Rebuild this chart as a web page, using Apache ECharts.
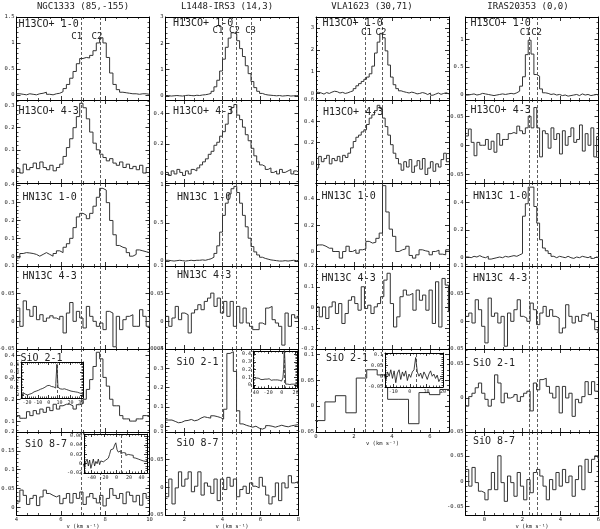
<!DOCTYPE html>
<html><head><meta charset="utf-8">
<script src="https://cdn.jsdelivr.net/npm/echarts@6/dist/echarts.min.js"></script>
<style>html,body{margin:0;padding:0;background:#fff}#c{width:600px;height:529px}</style>
</head><body><div id="c"></div>
<script>
// ================= DATA =================
const sourceNames = ['NGC1333 (85,-155)', 'L1448-IRS3 (14,3)', 'VLA1623 (30,71)', 'IRAS20353 (0,0)'];
const lineNames = ['H13CO+ 1-0', 'H13CO+ 4-3', 'HN13C 1-0', 'HN13C 4-3', 'SiO 2-1', 'SiO 8-7'];
const velRange = [[4, 10], [1, 8], [0, 7], [-1, 6]];
const velStep = 2;
const velTitle = 'v (km s\u207B\u00B9)';
const compVel = [[6.9, 7.8], [4.0, 4.7, 5.5], [2.6, 3.5], [2.35, 2.8]];
const compNames = [['C1', 'C2'], ['C1', 'C2', 'C3'], ['C1', 'C2'], ['C1', 'C2']];

// y axes per column, rows top to bottom: [min, max, major step]
const yNGC1333 = [[-0.1, 1.5, 0.5], [-0.05, 0.325, 0.1], [-0.055, 0.41, 0.1], [-0.05, 0.1, 0.05], [0.05, 0.43, 0.1], [-0.02, 0.2, 0.05]];
const yL1448 = [[-0.15, 3, 1], [-0.06, 0.49, 0.2], [-0.065, 1.025, 0.5], [-0.05, 0.1, 0.05], [-0.03, 0.4, 0.1], [-0.05, 0.1, 0.05]];
const yVLA1623 = [[-0.3, 3.5, 1], [-0.18, 0.6, 0.2], [-0.11, 0.52, 0.2], [-0.2, 0.2, 0.1], [-0.05, 0.11, 0.05]];
const yIRAS20353 = [[-0.1, 1.4, 0.5], [-0.065, 0.078, 0.05], [-0.06, 0.54, 0.2], [-0.05, 0.1, 0.05], [-0.05, 0.072, 0.05], [-0.067, 0.097, 0.05]];

// channel grids: [left edge of first channel, channel width] (km/s)
const chNGC1333 = [[4, 0.15], [4, 0.15], [4, 0.15], [4, 0.15], [4, 0.15], [4, 0.15]];
const chL1448 = [[1, 0.15], [1, 0.15], [1, 0.15], [1, 0.17], [1, 0.17], [1, 0.17]];
const chVLA1623 = [[0, 0.14], [0, 0.14], [0, 0.175], [0, 0.17], [-0.08, 0.55]];
const chIRAS20353 = [[-1, 0.15], [-1, 0.15], [-1, 0.15], [-1, 0.17], [-1, 0.17], [-1, 0.17]];

// ---- NGC1333 spectra (K) ----
const NGC1333_H13COp_10 = [0.02,0.01,0.00,0.02,0.01,0.00,0.02,0.03,0.05,0.01,0.00,0.02,0.03,0.06,0.12,0.2,0.32,0.45,0.6,0.7,0.72,0.71,0.76,0.85,1.0,1.1,1.0,0.72,0.42,0.2,0.1,0.05,0.04,0.03,0.02,0.02,0.01,0.02,0.02,0.01];
const NGC1333_H13COp_43 = [0.015,-0.005,0.035,0.01,0.02,0.04,0.015,0.045,0.02,0.01,0.03,0.005,0.02,0.035,0.07,0.11,0.15,0.2,0.25,0.31,0.29,0.24,0.18,0.13,0.1,0.08,0.065,0.05,0.06,0.04,0.03,0.045,0.02,0.035,0.015,0.025,0.01,0.03,-0.005,0.02];
const NGC1333_HN13C_10 = [-0.01,0.015,0.02,0.018,0.015,0.01,0.0,0.01,0.02,0.01,0.0,0.015,0.03,0.02,0.05,0.07,0.1,0.16,0.22,0.24,0.23,0.21,0.24,0.28,0.33,0.38,0.37,0.3,0.2,0.12,0.06,0.05,0.045,0.02,0.0,0.01,0.035,0.03,0.025,0.02];
const NGC1333_HN13C_43 = [0.024,-0.009,0.037,0.021,0.009,0.027,0.003,0.012,0,0.006,0.01,0.006,0.003,0.009,-0.021,0.015,0.034,0,0.018,0.006,-0.012,0.027,0.009,0,-0.009,-0.003,-0.015,0.018,0.015,-0.046,0.009,-0.015,0.003,0.009,0.012,-0.009,-0.009,0.021,0.009,-0.009,0.006];
const NGC1333_SiO_21 = [0.125,0.113,0.113,0.143,0.125,0.148,0.133,0.155,0.14,0.163,0.148,0.177,0.155,0.17,0.177,0.177,0.17,0.155,0.175,0.18,0.2,0.245,0.29,0.35,0.415,0.385,0.3,0.26,0.2,0.17,0.17,0.125,0.11,0.11,0.1,0.1,0.11,0.11,0.125,0.125];
const NGC1333_SiO_87 = [0.015,0.046,0.032,0.008,0.024,0.032,0.005,0.028,0.046,0.037,0.032,0.028,0.032,0.01,0.024,0.037,0.012,0.037,0.024,0.041,0.008,0.028,0.037,0.024,0.012,0.032,0.004,0.024,0.05,0.032,0.024,0.037,0.01,0.041,0.032,0.015,0.032,0.006,0.037,0.024];

// ---- L1448-IRS3 spectra ----
const L1448_H13COp_10 = [0.02,0.0,0.01,0.02,0.01,0.0,0.02,0.03,0.02,0.01,0.03,0.02,0.04,0.05,0.07,0.1,0.18,0.35,0.6,0.95,1.4,1.85,2.2,2.4,2.35,2.1,1.8,1.5,1.15,0.85,0.55,0.32,0.18,0.1,0.06,0.04,0.03,0.02,0.01,0.02,0.0,0.01,0.02,0.0,0.01,0.02,0.01];
const L1448_H13COp_43 = [0.01,-0.01,0.02,0.0,0.03,0.01,-0.01,0.02,0.0,0.03,0.02,0.04,0.06,0.08,0.1,0.13,0.15,0.19,0.21,0.25,0.28,0.33,0.4,0.44,0.46,0.39,0.36,0.31,0.26,0.22,0.17,0.12,0.08,0.06,0.05,0.03,0.04,0.01,0.02,0.0,0.03,0.01,0.02,0.03,0.0,0.02,0.01];
const L1448_HN13C_10 = [0.01,0.005,0.0,0.005,0.01,0.005,0.0,0.005,0.01,0.005,0.01,0.01,0.015,0.01,0.02,0.03,0.05,0.1,0.2,0.38,0.6,0.76,0.88,0.95,0.98,0.9,0.76,0.6,0.45,0.3,0.19,0.12,0.08,0.05,0.035,0.025,0.015,0.01,0.005,0.0,0.0,0.005,0.0,0.005,0.01,0.005,0.01];
const L1448_HN13C_43 = [0.009,-0.009,0.006,0.027,0.003,0.015,0.012,-0.021,0.015,0.021,0.03,0.021,0.036,0.042,0.051,0.027,0.042,0.015,0.036,0.009,0.036,-0.009,0.027,-0.003,0.024,-0.003,-0.009,-0.015,-0.015,-0.003,-0.006,0.024,0.027,0.003,-0.003,-0.009,-0.043,0.015,-0.009,0.012,0.006,0.01];
const L1448_SiO_21 = [0.032,0.032,0.025,0.018,0.02,0.028,0.03,0.035,0.028,0.032,0.042,0.049,0.045,0.042,0.054,0.05,0.045,0.037,0.088,0.377,0.386,0.284,0.08,0.012,0.005,0.0,-0.005,0.0,-0.01,-0.015,-0.008,0.003,0.0,-0.005,0.0,0.005,0.0,-0.003,0.002,0.005,0.008,0.005];
const L1448_SiO_87 = [-0.017,0.015,-0.03,-0.001,0.028,0.002,0.015,0.028,-0.008,0.002,0.028,-0.014,0.008,0.002,-0.011,0.015,-0.024,0.015,-0.004,0.018,0.002,0.015,-0.017,-0.004,0.002,-0.011,0.008,0.002,-0.001,0.018,0.002,-0.014,-0.03,-0.017,0.008,-0.024,0.008,-0.001,0.021,0.008,0.01,0.006];

// ---- VLA1623 spectra ----
const VLA1623_H13COp_10 = [0.05,0.02,-0.03,0.04,0.0,0.06,0.1,0.08,0.02,0.05,0.0,0.03,0.08,0.12,0.22,0.35,0.45,0.55,0.65,0.75,0.9,1.25,1.85,2.35,2.75,2.55,1.95,1.3,0.75,0.4,0.22,0.12,0.08,0.05,0.02,0.06,0.03,-0.02,0.0,0.04,0.01,-0.05,0.02,-0.08,-0.03,0.02,-0.04,0.0,0.03,-0.02];
const VLA1623_H13COp_43 = [-0.04,0.07,0.02,0.05,0.08,0.0,0.05,0.03,0.07,0.02,0.08,0.06,0.1,0.15,0.21,0.25,0.27,0.3,0.32,0.37,0.43,0.46,0.5,0.55,0.52,0.43,0.35,0.27,0.18,0.1,0.05,0.0,-0.06,0.02,-0.03,0.04,-0.08,-0.02,0.03,-0.05,0.05,-0.1,-0.04,0.02,-0.07,0.0,-0.03,0.04,0.1,0.02];
const VLA1623_HN13C_10 = [0.05,0.05,0.04,0.025,0.025,0.0,0.0,-0.05,0.0,0.04,0.0,0.013,-0.013,0.013,0.02,0.077,0.064,0.07,0.1,0.14,0.5,0.3,0.17,0.115,0.0,0.013,0.02,0.04,-0.03,-0.05,-0.025,0.013,0.005,0.0,-0.025,0.0,0.01,-0.02,-0.025,0.013,0.013];
const VLA1623_HN13C_43 = [0.003,-0.045,0.003,-0.053,0.003,0.027,-0.029,0.019,-0.077,-0.029,0.035,0.052,0.019,-0.013,0.1,-0.005,0.011,-0.029,0.003,0.019,0.052,0.132,0.165,0.019,-0.094,-0.045,0.052,0.084,0.06,0.068,-0.013,0.084,0.035,0.06,-0.013,0.084,-0.077,0.124,-0.094,0.14,0.108,-0.021];
const VLA1623_SiO_21 = [-0.028,0.008,0.02,-0.013,0.054,0.07,0.06,0.013,0.013,-0.034,0.026,0.022,0.032,0.032];

// ---- IRAS20353 spectra ----
const IRAS20353_H13COp_10 = [-0.01,0.0,0.01,-0.01,0.0,0.02,0.01,0.0,-0.01,-0.02,-0.01,0.0,0.01,0.0,0.01,0.02,0.01,0.03,0.06,0.15,0.32,0.72,0.98,0.73,0.36,0.33,0.1,0.03,0.02,0.0,0.01,-0.01,0.0,-0.02,-0.01,-0.03,-0.02,-0.01,0.0,-0.02,0.01,-0.01,0.0,-0.02,-0.01,0.0,-0.02];
const IRAS20353_H13COp_43 = [0.016,0.028,0.005,-0.018,0.005,0.0,0.0,0.01,-0.007,0.007,-0.012,0.02,0.0,0.01,0.01,0.02,0.022,0.02,0.033,0.025,0.02,0.03,0.05,0.03,0.065,0.03,-0.02,0.025,0.02,-0.005,0.03,0.01,0.02,-0.015,0.025,0.0,0.015,0.03,0.005,0.01,0.035,-0.01,0.02,0.0,0.03,-0.02,0.015];
const IRAS20353_HN13C_10 = [0.005,0.0,0.01,0.005,0.015,0.005,0.0,0.01,-0.01,-0.005,0.0,0.005,0.0,0.01,0.005,0.01,0.015,0.01,0.02,0.03,0.3,0.39,0.51,0.51,0.37,0.25,0.13,0.07,0.05,0.03,0.01,0.0,0.01,0.005,0.0,0.01,0.0,-0.005,0.005,0.0,0.01,0.005,0.0,0.01,-0.005,0.005,0.0];
const IRAS20353_HN13C_43 = [0.009,0.015,-0.003,0.039,0.021,-0.009,-0.039,0.042,0.009,0.015,-0.003,0.009,-0.045,0.015,0,0.021,0.039,0.009,0.006,0,0.033,0.021,-0.006,0.015,0.027,0.009,0.021,0.009,0.006,-0.021,-0.012,0.03,0.009,-0.003,0.009,0,0.012,0.009,0.015,0.003,-0.015,-0.02];
const IRAS20353_SiO_21 = [-0.012,0.002,0.007,0.015,0.022,0.007,-0.002,-0.012,-0.002,0.034,0.022,-0.007,0.007,0,0.002,0.005,-0.005,0.002,0.007,0.01,-0.019,0.022,0.012,0.027,0.029,0.017,0.007,0,0.017,-0.022,0.017,0,0.007,-0.027,-0.002,-0.007,0.002,0.024,0.005,0.024,0.01,0.012];
const IRAS20353_SiO_87 = [0.023,-0.01,0.027,-0.003,-0.02,-0.023,-0.037,-0.017,0.017,-0.017,0.05,-0.003,-0.04,0.01,-0.003,-0.03,0.017,-0.01,-0.037,0.003,-0.023,0.017,0.023,0.01,-0.01,-0.037,0.003,-0.017,0.017,-0.01,0.023,-0.003,0.01,-0.03,0.003,0.03,-0.017,0.043,0.017,0.043,0.05,0.045];

// ---- wide-band insets (SiO) ----
const insetNGC1333_SiO21 = [0.02,0.0,0.03,0.01,0.02,0.0,0.025,0.01,0.03,0.02,0.03,0.04,0.035,0.05,0.055,0.06,0.07,0.075,0.08,0.085,0.09,0.1,0.11,0.12,0.13,0.125,0.12,0.11,0.1,0.105,0.095,0.09,0.15,0.4,0.1,0.08,0.09,0.075,0.07,0.08,0.065,0.07,0.075,0.06,0.065,0.05,0.055,0.045,0.05,0.04,0.03,0.035,0.02,0.025,0.01,0.015,0.0];
const insetL1448_SiO21 = [0.08,0.09,0.085,0.07,0.08,0.075,0.09,0.08,0.07,0.085,0.075,0.08,0.07,0.075,0.085,0.07,0.065,0.08,0.075,0.07,0.065,0.075,0.07,0.065,0.08,0.07,0.065,0.06,0.075,0.07,0.065,0.06,0.07,0.065,0.06,0.055,0.065,0.06,0.055,0.06,0.05,0.055,0.05,0.06,0.09,0.2,0.5,0.3,0.01,0.015,0.005,0.01,0.015,0.01,0.005,0.01,0.02,0.01,0.015,0.005,0.01,0.015,0.01,0.01,0.01];
const insetVLA1623_SiO21 = [0.01,-0.02,0.02,0.0,0.03,-0.01,0.025,-0.03,0.015,0.03,-0.015,0.02,0.0,0.025,-0.02,0.01,-0.005,0.02,0.03,0.087,0.02,0.0,0.015,-0.01,0.02,0.005,-0.015,0.01,0.025,0.0,0.01,-0.01,0.005,-0.025,-0.01,-0.01];
const insetNGC1333_SiO87 = [0.0,-0.01,0.005,0.01,-0.005,0.008,-0.01,0.0,0.01,-0.005,0.005,0.0,0.01,-0.002,0.006,0.004,0.005,0.008,0.006,0.012,0.015,0.02,0.03,0.032,0.035,0.04,0.045,0.03,0.025,0.028,0.022,0.024,0.02,0.023,0.018,0.02,0.017,0.019,0.015,0.018,0.013,0.012,0.015,0.01,0.012,0.008,0.01,0.006,0.009,0.005,0.007];
// inset channel grids, axes [min,max,step], source velocity marker
const insetCh = [[-25.5, 1], [-42.5, 1], [-15.5, 1], [-53, 2]];
const insetX = [[-25.5, 31.5, 10], [-42, 22, 20], [-15, 20, 10], [-52, 49, 20]];
const insetY = [[-0.04, 0.43, 0.1], [-0.04, 0.44, 0.1], [-0.05, 0.108, 0.05], [-0.02, 0.064, 0.02]];
const insetVel = [8, 4, 4, 8];

// ================= LAYOUT / STYLE =================
const FONT = '"DejaVu Sans Mono", "Liberation Mono", monospace';
const colLeft = [16.5, 165.5, 316, 465.5];
const colW = 133;
const rowTop = 17, rowH = 83;
const lineLabelPos = [
  [[18.5, 19.5], [173, 18.5], [322.5, 18.5], [470.5, 18.5]],
  [[18.5, 106], [173, 106], [323, 107.5], [470.5, 105.5]],
  [[22.5, 192], [177, 192], [321.5, 191.5], [473, 191.5]],
  [[22.5, 271], [177, 270], [321.5, 273.5], [473, 273.5]],
  [[20.5, 353], [176.5, 357], [326, 353], [473, 358]],
  [[25, 439.5], [176.5, 438], null, [473, 436.5]]
];
const titleX = [83, 227, 372, 528];
const compLabelY = [36.5, 31, 33, 33];
const compLabelShift = [[-4, -3.7], [-4.6, -1.4, -0.4], [1, -1.5], [-4, -1.1]];
const insetRect = [[21, 362, 62, 36], [253, 351, 44, 37], [385, 353, 58, 34], [84, 434, 63, 39]];
const insetHost = [[0, 4], [1, 4], [2, 4], [0, 5]];

// ================= BUILD =================
const colY = [yNGC1333, yL1448, yVLA1623, yIRAS20353];
const colCh = [chNGC1333, chL1448, chVLA1623, chIRAS20353];
const colSpec = [
  [NGC1333_H13COp_10, NGC1333_H13COp_43, NGC1333_HN13C_10, NGC1333_HN13C_43, NGC1333_SiO_21, NGC1333_SiO_87],
  [L1448_H13COp_10, L1448_H13COp_43, L1448_HN13C_10, L1448_HN13C_43, L1448_SiO_21, L1448_SiO_87],
  [VLA1623_H13COp_10, VLA1623_H13COp_43, VLA1623_HN13C_10, VLA1623_HN13C_43, VLA1623_SiO_21],
  [IRAS20353_H13COp_10, IRAS20353_H13COp_43, IRAS20353_HN13C_10, IRAS20353_HN13C_43, IRAS20353_SiO_21, IRAS20353_SiO_87]
];
const insetSpec = [insetNGC1333_SiO21, insetL1448_SiO21, insetVLA1623_SiO21, insetNGC1333_SiO87];

function isMult(v, s) { const r = v / s; return Math.abs(r - Math.round(r)) < 1e-6; }
function minorSplit(s) { const d = s / Math.pow(10, Math.floor(Math.log10(s) + 1e-9)); return Math.abs(d - 2) < 1e-6 ? 4 : 5; }
function stepPoints(ch, vals) {
  const pts = vals.map((v, i) => [ch[0] + i * ch[1], v]);
  pts.push([ch[0] + vals.length * ch[1], vals[vals.length - 1]]);
  return pts;
}

const grids = [], xAxes = [], yAxes = [], series = [];

function axisDef(g, min, max, step, pos, labels, z, fs, name) {
  const tl = fs < 5.5 ? 3 : 4;
  const a = {
    type: 'value', gridIndex: g, position: pos, min: min, max: max,
    splitNumber: Math.max(1, Math.round((max - min) / step)),
    minInterval: step, maxInterval: step, z: z, silent: true,
    axisLine: { show: true, onZero: false, lineStyle: { color: '#000', width: 1 } },
    axisTick: { show: true, inside: true, length: tl, lineStyle: { color: '#000', width: 0.8 } },
    minorTick: { show: true, splitNumber: minorSplit(step), length: tl / 2, lineStyle: { color: '#000', width: 0.7 } },
    splitLine: { show: false }, minorSplitLine: { show: false },
    axisLabel: { show: labels, fontSize: fs, fontFamily: FONT, color: '#222', margin: 2,
      showMinLabel: isMult(min, step), showMaxLabel: isMult(max, step) },
    axisPointer: { show: false }
  };
  if (name) {
    a.name = name; a.nameLocation = 'middle'; a.nameGap = 2.5;
    a.nameTextStyle = { fontSize: fs, fontFamily: FONT, color: '#222', verticalAlign: 'top' };
  }
  return a;
}

function addPanel(rect, xr, xstep, yr, o) {
  const g = grids.length;
  grids.push({ left: rect[0], top: rect[1], width: rect[2], height: rect[3], containLabel: false,
    outerBoundsMode: 'none', show: !!o.bg, backgroundColor: '#fff', borderWidth: 0, z: o.z });
  const xi = xAxes.length, yi = yAxes.length;
  xAxes.push(axisDef(g, xr[0], xr[1], xstep, 'bottom', o.xLabels, o.z + 1, o.fs, o.xName));
  xAxes.push(axisDef(g, xr[0], xr[1], xstep, 'top', false, o.z + 1, o.fs));
  yAxes.push(axisDef(g, yr[0], yr[1], yr[2], 'left', true, o.z + 1, o.fs));
  yAxes.push(axisDef(g, yr[0], yr[1], yr[2], 'right', false, o.z + 1, o.fs));
  return { xi: xi, yi: yi };
}

function spectrumSeries(ax, pts, marks, z, color, width) {
  return {
    type: 'line', xAxisIndex: ax.xi, yAxisIndex: ax.yi, step: 'end', data: pts,
    showSymbol: false, symbol: 'none', silent: true, animation: false, clip: true, z: z,
    lineStyle: { color: color, width: width },
    emphasis: { disabled: true },
    markLine: { silent: true, animation: false, symbol: ['none', 'none'], z: z + 1,
      label: { show: false }, emphasis: { disabled: true },
      lineStyle: { color: '#333', width: 0.8, type: [3, 2] },
      data: marks.map(v => ({ xAxis: v })) }
  };
}

const topXAxisIndex = [];
for (let c = 0; c < 4; c++) {
  const nRows = colSpec[c].length;
  for (let r = 0; r < nRows; r++) {
    const bottom = (r === nRows - 1);
    const ax = addPanel([colLeft[c], rowTop + r * rowH, colW, rowH], velRange[c], velStep, colY[c][r],
      { xLabels: bottom, xName: bottom ? velTitle : null, z: 0, fs: 5.5, bg: false });
    if (r === 0) topXAxisIndex[c] = ax.xi;
    series.push(spectrumSeries(ax, stepPoints(colCh[c][r], colSpec[c][r]), compVel[c], 3, '#333', 1));
  }
}
for (let k = 0; k < 4; k++) {
  const ax = addPanel(insetRect[k], insetX[k], insetX[k][2], insetY[k],
    { xLabels: true, xName: null, z: 10, fs: 5, bg: true });
  series.push(spectrumSeries(ax, stepPoints(insetCh[k], insetSpec[k]), [insetVel[k]], 12, '#111', 0.8));
}

function txt(x, y, s, size, align, valign) {
  return { type: 'text', x: x, y: y, silent: true, z: 30,
    style: { text: s, font: size + 'px ' + FONT, fontSize: size, fontFamily: FONT, fill: '#222',
      textAlign: align, align: align, textVerticalAlign: valign, verticalAlign: valign } };
}
const graphics = [];
for (let c = 0; c < 4; c++) graphics.push(txt(titleX[c], 7, sourceNames[c], 9, 'center', 'middle'));
for (let r = 0; r < 6; r++) for (let c = 0; c < 4; c++) {
  const p = lineLabelPos[r][c];
  if (p) graphics.push(txt(p[0], p[1], lineNames[r], 10, 'left', 'top'));
}

const chart = echarts.init(document.getElementById('c'), null, { renderer: 'canvas', width: 600, height: 529 });
chart.setOption({
  animation: false, backgroundColor: '#fff',
  grid: grids, xAxis: xAxes, yAxis: yAxes, series: series, graphic: graphics
});
for (let c = 0; c < 4; c++) {
  compVel[c].forEach((v, k) => {
    const px = chart.convertToPixel({ xAxisIndex: topXAxisIndex[c] }, v);
    graphics.push(txt(px + compLabelShift[c][k], compLabelY[c], compNames[c][k], 9, 'center', 'middle'));
  });
}
chart.setOption({ graphic: graphics });
</script></body></html>
